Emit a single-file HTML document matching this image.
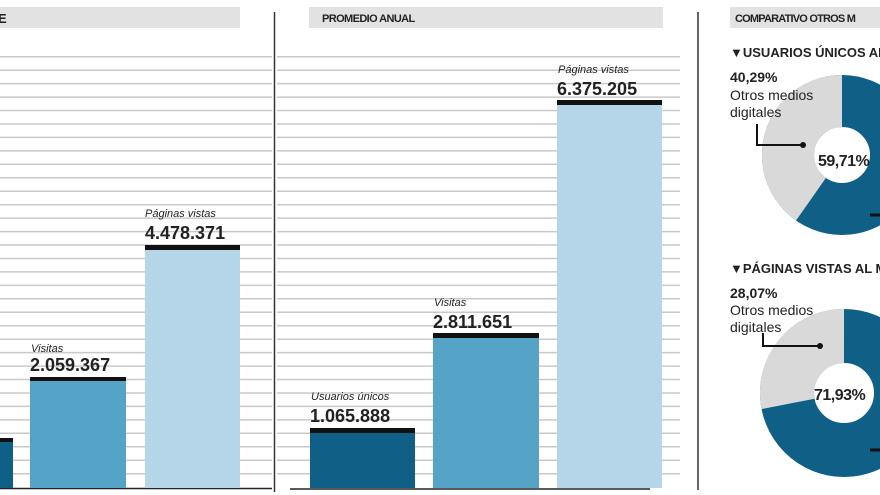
<!DOCTYPE html><html><head><meta charset="utf-8"><style>body{margin:0;background:#fff}svg{display:block}text{font-family:"Liberation Sans",sans-serif}</style></head><body>
<svg width="880" height="495" viewBox="0 0 880 495">
<rect width="880" height="495" fill="#fff"/>
<g stroke="#c9c9c9" stroke-width="1.5" id="g">
<script></script>
</g>
<g stroke="#c9c9c9" stroke-width="1.5">
<path d="M0 56.7H272M0 70.2H272M0 83.6H272M0 97.1H272M0 110.5H272M0 124H272M0 137.4H272M0 150.9H272M0 164.3H272M0 177.8H272M0 191.2H272M0 204.7H272M0 218.1H272M0 231.6H272M0 245H272M0 258.5H272M0 271.9H272M0 285.4H272M0 298.8H272M0 312.3H272M0 325.7H272M0 339.2H272M0 352.6H272M0 366.1H272M0 379.5H272M0 393H272M0 406.4H272M0 419.9H272M0 433.3H272M0 446.8H272M0 460.2H272M0 473.7H272"/>
<path d="M277 56.7H680M277 70.2H680M277 83.6H680M277 97.1H680M277 110.5H680M277 124H680M277 137.4H680M277 150.9H680M277 164.3H680M277 177.8H680M277 191.2H680M277 204.7H680M277 218.1H680M277 231.6H680M277 245H680M277 258.5H680M277 271.9H680M277 285.4H680M277 298.8H680M277 312.3H680M277 325.7H680M277 339.2H680M277 352.6H680M277 366.1H680M277 379.5H680M277 393H680M277 406.4H680M277 419.9H680M277 433.3H680M277 446.8H680M277 460.2H680M277 473.7H680"/>
</g>
<line x1="274.5" y1="12" x2="274.5" y2="492" stroke="#333" stroke-width="1.5"/>
<line x1="698" y1="12" x2="698" y2="490" stroke="#333" stroke-width="1.5"/>
<line x1="0" y1="488.5" x2="272" y2="488.5" stroke="#222" stroke-width="1.5"/>
<line x1="290" y1="489" x2="650" y2="489" stroke="#222" stroke-width="1.5"/>
<!-- headers -->
<rect x="0" y="7" width="240" height="21" fill="#e2e2e2"/>
<text x="-2" y="23" font-size="13" font-weight="bold" fill="#222">E</text>
<rect x="309" y="7" width="354" height="21" fill="#e2e2e2"/>
<text x="322" y="22" font-size="11" font-weight="bold" fill="#222" letter-spacing="-0.6">PROMEDIO ANUAL</text>
<rect x="730" y="7" width="150" height="21" fill="#e2e2e2"/>
<text x="735" y="22" font-size="11" font-weight="bold" fill="#222" letter-spacing="-0.8">COMPARATIVO OTROS M</text>
<!-- left bars -->
<rect x="0" y="440" width="13" height="48" fill="#0f5f86"/><rect x="0" y="438" width="13" height="4" fill="#111"/>
<rect x="30" y="378" width="96" height="110" fill="#55a4c8"/><rect x="30" y="377" width="96" height="4" fill="#111"/>
<rect x="145" y="247" width="95" height="241" fill="#b5d5e8"/><rect x="145" y="245" width="95" height="5" fill="#111"/>
<text x="31" y="352" font-size="11" font-style="italic" fill="#222">Visitas</text>
<text x="30" y="371" font-size="18" font-weight="bold" fill="#222">2.059.367</text>
<text x="145" y="217" font-size="11" font-style="italic" fill="#222">Páginas vistas</text>
<text x="145" y="239" font-size="18" font-weight="bold" fill="#222">4.478.371</text>
<!-- right bars -->
<rect x="310" y="430" width="105" height="58" fill="#0f5f86"/><rect x="310" y="428" width="105" height="5" fill="#111"/>
<rect x="433" y="334" width="106" height="154" fill="#55a4c8"/><rect x="433" y="333" width="106" height="5" fill="#111"/>
<rect x="557" y="101" width="105" height="387" fill="#b5d5e8"/><rect x="557" y="100" width="105" height="5" fill="#111"/>
<text x="311" y="400" font-size="11" font-style="italic" fill="#222">Usuarios únicos</text>
<text x="310" y="422" font-size="18" font-weight="bold" fill="#222">1.065.888</text>
<text x="434" y="306" font-size="11" font-style="italic" fill="#222">Visitas</text>
<text x="433" y="328" font-size="18" font-weight="bold" fill="#222">2.811.651</text>
<text x="558" y="73" font-size="11" font-style="italic" fill="#222">Páginas vistas</text>
<text x="557" y="95" font-size="18" font-weight="bold" fill="#222">6.375.205</text>
<!-- donuts -->
<text x="730" y="57" font-size="13" font-weight="bold" fill="#222">▼USUARIOS ÚNICOS AL M</text>
<circle cx="842" cy="155" r="54" fill="none" stroke="#0f5f86" stroke-width="52"/>
<path d="M842 101 A54 54 0 0 0 811 199.2" fill="none" stroke="#d9d9d9" stroke-width="52"/>
<text x="730" y="82" font-size="14" font-weight="bold" fill="#222">40,29%</text>
<text x="730" y="100" font-size="14" fill="#222">Otros medios</text>
<text x="730" y="117" font-size="14" fill="#222">digitales</text>
<path d="M757 124V145H802" fill="none" stroke="#111" stroke-width="2"/><circle cx="803" cy="145" r="3" fill="#111"/>
<text x="818" y="166" font-size="16" font-weight="bold" fill="#222" letter-spacing="-0.5">59,71%</text>
<path d="M870 215H880" stroke="#111" stroke-width="3"/>
<text x="730" y="273" font-size="13" font-weight="bold" fill="#222">▼PÁGINAS VISTAS AL M</text>
<circle cx="844" cy="393" r="57" fill="none" stroke="#0f5f86" stroke-width="54"/>
<path d="M844 336 A57 57 0 0 0 788 403.9" fill="none" stroke="#d9d9d9" stroke-width="54"/>
<text x="730" y="298" font-size="14" font-weight="bold" fill="#222">28,07%</text>
<text x="730" y="315" font-size="14" fill="#222">Otros medios</text>
<text x="730" y="332" font-size="14" fill="#222">digitales</text>
<path d="M763 333V346H819" fill="none" stroke="#111" stroke-width="2"/><circle cx="820" cy="346" r="3" fill="#111"/>
<text x="814" y="400" font-size="16" font-weight="bold" fill="#222" letter-spacing="-0.5">71,93%</text>
<path d="M870 450H880" stroke="#111" stroke-width="3"/>
</svg></body></html>
